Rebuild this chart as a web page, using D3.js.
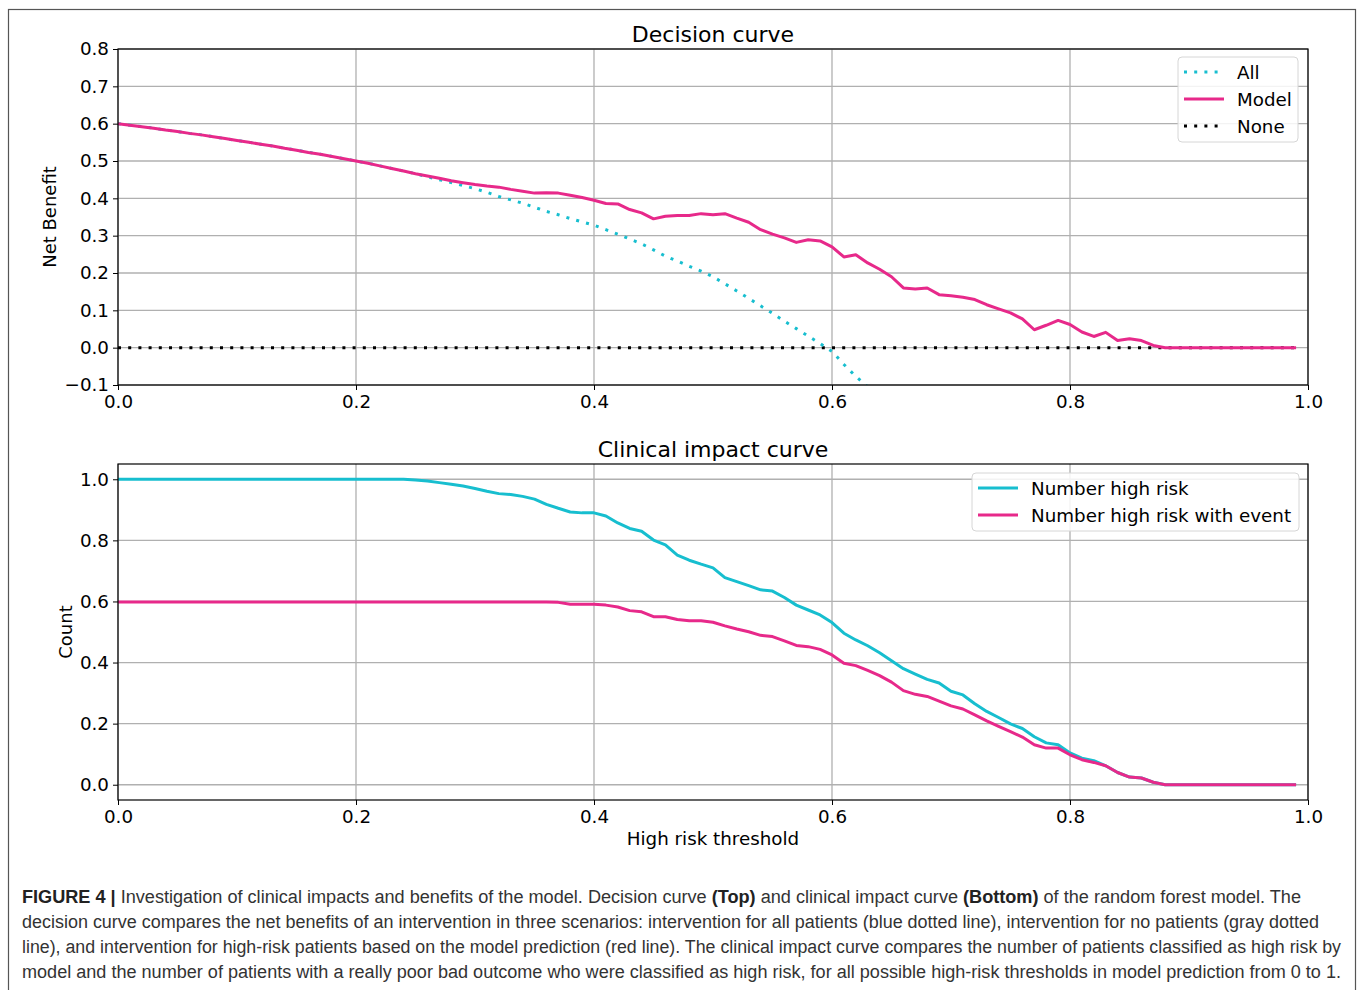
<!DOCTYPE html>
<html>
<head>
<meta charset="utf-8">
<script src="https://cdn.jsdelivr.net/npm/d3@7"></script>
<style>
  body { margin: 0; background: #fff; }
  svg { display: block; }
  .tick text { font-family: "DejaVu Sans", sans-serif; font-size: 18.3px; fill: #000; }
</style>
</head>
<body>
<svg id="lienzo" width="1358" height="990"></svg>
<script>

// umbrales de riesgo (eje x de las dos gráficas)
const thresholds = [
  0.00,0.01,0.02,0.03,0.04,0.05,0.06,0.07,0.08,0.09,
  0.10,0.11,0.12,0.13,0.14,0.15,0.16,0.17,0.18,0.19,
  0.20,0.21,0.22,0.23,0.24,0.25,0.26,0.27,0.28,0.29,
  0.30,0.31,0.32,0.33,0.34,0.35,0.36,0.37,0.38,0.39,
  0.40,0.41,0.42,0.43,0.44,0.45,0.46,0.47,0.48,0.49,
  0.50,0.51,0.52,0.53,0.54,0.55,0.56,0.57,0.58,0.59,
  0.60,0.61,0.62,0.63,0.64,0.65,0.66,0.67,0.68,0.69,
  0.70,0.71,0.72,0.73,0.74,0.75,0.76,0.77,0.78,0.79,
  0.80,0.81,0.82,0.83,0.84,0.85,0.86,0.87,0.88,0.89,
  0.90,0.91,0.92,0.93,0.94,0.95,0.96,0.97,0.98,0.99
];

// Decision curve: "All" (solo hasta 0.63, luego sale del gráfico)
const netBenefitAll = [
  0.600,0.596,0.592,0.588,0.583,0.579,0.574,0.570,0.565,0.560,
  0.555,0.550,0.545,0.540,0.534,0.529,0.523,0.518,0.512,0.506,
  0.500,0.494,0.487,0.480,0.473,0.466,0.458,0.450,0.442,0.434,
  0.426,0.416,0.405,0.396,0.387,0.376,0.365,0.356,0.346,0.337,
  0.328,0.316,0.304,0.291,0.278,0.262,0.245,0.232,0.218,0.205,
  0.190,0.171,0.152,0.132,0.112,0.092,0.071,0.051,0.031,0.011,
  -0.010,-0.045,-0.077,-0.105
];

const netBenefitModel = [
  0.600,0.596,0.592,0.588,0.583,0.579,0.574,0.570,0.565,0.560,
  0.555,0.550,0.545,0.540,0.534,0.529,0.523,0.518,0.512,0.506,
  0.500,0.494,0.487,0.480,0.473,0.466,0.460,0.454,0.447,0.442,
  0.437,0.433,0.430,0.424,0.419,0.414,0.415,0.414,0.408,0.402,
  0.395,0.386,0.385,0.370,0.361,0.345,0.352,0.354,0.354,0.359,
  0.356,0.359,0.347,0.336,0.316,0.304,0.294,0.282,0.289,0.286,
  0.270,0.243,0.249,0.227,0.210,0.190,0.160,0.157,0.160,0.142,
  0.139,0.135,0.129,0.115,0.104,0.093,0.077,0.048,0.060,0.073,
  0.062,0.042,0.030,0.041,0.019,0.024,0.019,0.006,0.000,0.000,
  0.000,0.000,0.000,0.000,0.000,0.000,0.000,0.000,0.000,0.000
];

const noneThresholds = [0.00, 0.99];
const netBenefitNone = [0.000, 0.000];

// Clinical impact curve
const countHighRisk = [
  1.000,1.000,1.000,1.000,1.000,1.000,1.000,1.000,1.000,1.000,
  1.000,1.000,1.000,1.000,1.000,1.000,1.000,1.000,1.000,1.000,
  1.000,1.000,1.000,1.000,1.000,0.998,0.994,0.989,0.984,0.978,
  0.970,0.961,0.953,0.950,0.944,0.935,0.918,0.905,0.893,0.890,
  0.890,0.880,0.857,0.839,0.830,0.801,0.785,0.752,0.735,0.722,
  0.710,0.678,0.665,0.652,0.638,0.634,0.613,0.588,0.572,0.556,
  0.531,0.496,0.474,0.455,0.432,0.406,0.380,0.362,0.345,0.333,
  0.306,0.294,0.265,0.240,0.220,0.199,0.184,0.157,0.137,0.131,
  0.104,0.087,0.079,0.062,0.040,0.025,0.022,0.008,0.000,0.000,
  0.000,0.000,0.000,0.000,0.000,0.000,0.000,0.000,0.000,0.000
];

const countHighRiskEvent = [
  0.598,0.598,0.598,0.598,0.598,0.598,0.598,0.598,0.598,0.598,
  0.598,0.598,0.598,0.598,0.598,0.598,0.598,0.598,0.598,0.598,
  0.598,0.598,0.598,0.598,0.598,0.598,0.598,0.598,0.598,0.598,
  0.598,0.598,0.598,0.598,0.598,0.598,0.598,0.597,0.591,0.591,
  0.591,0.588,0.582,0.570,0.566,0.550,0.550,0.541,0.537,0.537,
  0.532,0.520,0.510,0.501,0.489,0.485,0.471,0.456,0.452,0.443,
  0.425,0.398,0.390,0.374,0.357,0.336,0.308,0.296,0.289,0.274,
  0.258,0.248,0.229,0.209,0.191,0.174,0.156,0.131,0.120,0.120,
  0.098,0.082,0.073,0.062,0.040,0.025,0.022,0.008,0.000,0.000,
  0.000,0.000,0.000,0.000,0.000,0.000,0.000,0.000,0.000,0.000
];

const xTicks = [0.0, 0.2, 0.4, 0.6, 0.8, 1.0];
const netBenefitTicks = [-0.1, 0.0, 0.1, 0.2, 0.3, 0.4, 0.5, 0.6, 0.7, 0.8];
const countTicks = [0.0, 0.2, 0.4, 0.6, 0.8, 1.0];

const captionLines = [
  [["FIGURE 4 |", true], [" Investigation of clinical impacts and benefits of the model. Decision curve ", false], ["(Top)", true], [" and clinical impact curve ", false], ["(Bottom)", true], [" of the random forest model. The", false]],
  [["decision curve compares the net benefits of an intervention in three scenarios: intervention for all patients (blue dotted line), intervention for no patients (gray dotted", false]],
  [["line), and intervention for high-risk patients based on the model prediction (red line). The clinical impact curve compares the number of patients classified as high risk by", false]],
  [["model and the number of patients with a really poor bad outcome who were classified as high risk, for all possible high-risk thresholds in model prediction from 0 to 1.", false]]
];
const captionWidths = [1279, 1297, 1319, 1319];

const CYAN = '#17becf';
const PINK = '#e7298a';
const FONT = '"DejaVu Sans", sans-serif';
const DOTS = '3,7.2';

const svg = d3.select('#lienzo');

// marco exterior de la figura
svg.append('rect')
    .attr('x', 8.5).attr('y', 9.5)
    .attr('width', 1347).attr('height', 1000)
    .attr('fill', 'none')
    .attr('stroke', '#555')
    .attr('stroke-width', 1.2);

const left = 118, right = 1308;

function dibujarPanel(p) {
    const x = d3.scaleLinear().domain([0, 1]).range([left, right]);
    const y = d3.scaleLinear().domain(p.yDomain).range([p.bottom, p.top]);
    const g = svg.append('g');

    g.append('clipPath').attr('id', p.id)
        .append('rect')
        .attr('x', left).attr('y', p.top)
        .attr('width', right - left).attr('height', p.bottom - p.top);

    // rejilla
    g.append('g')
        .selectAll('line.gx')
        .data(xTicks)
        .enter().append('line')
        .attr('x1', d => x(d)).attr('x2', d => x(d))
        .attr('y1', p.top).attr('y2', p.bottom)
        .attr('stroke', '#b0b0b0').attr('stroke-width', 1.3);
    g.append('g')
        .selectAll('line.gy')
        .data(p.yTicks)
        .enter().append('line')
        .attr('x1', left).attr('x2', right)
        .attr('y1', d => y(d)).attr('y2', d => y(d))
        .attr('stroke', '#b0b0b0').attr('stroke-width', 1.3);

    // curvas
    const plot = g.append('g').attr('clip-path', `url(#${p.id})`);
    p.series.forEach(s => {
        const line = d3.line()
            .x((d, i) => x(s.xs[i]))
            .y(d => y(d));
        plot.append('path')
            .datum(s.values)
            .attr('d', line)
            .attr('fill', 'none')
            .attr('stroke', s.color)
            .attr('stroke-width', 3)
            .attr('stroke-dasharray', s.dotted ? DOTS : null)
            .attr('stroke-linejoin', 'round');
    });

    // ejes
    const fmt = d3.format('.1f');
    const ax = g.append('g')
        .attr('transform', `translate(0,${p.bottom})`)
        .call(d3.axisBottom(x).tickValues(xTicks).tickFormat(fmt).tickSize(5).tickPadding(5));
    const ay = g.append('g')
        .attr('transform', `translate(${left},0)`)
        .call(d3.axisLeft(y).tickValues(p.yTicks).tickFormat(fmt).tickSize(5).tickPadding(4));
    ax.select('.domain').remove();
    ay.select('.domain').remove();
    g.selectAll('.tick line').attr('stroke', '#000').attr('stroke-width', 1);

    g.append('rect')
        .attr('x', left).attr('y', p.top)
        .attr('width', right - left).attr('height', p.bottom - p.top)
        .attr('fill', 'none').attr('stroke', '#000').attr('stroke-width', 1.2);

    // título y etiqueta del eje y
    g.append('text')
        .attr('x', (left + right) / 2).attr('y', p.top - 7)
        .attr('text-anchor', 'middle')
        .attr('font-family', FONT).attr('font-size', '22px')
        .text(p.title);
    g.append('text')
        .attr('transform', `translate(${p.yLabelX},${(p.top + p.bottom) / 2}) rotate(-90)`)
        .attr('text-anchor', 'middle')
        .attr('font-family', FONT).attr('font-size', '18px')
        .text(p.yLabel);

    // leyenda
    const lg = g.append('g');
    lg.append('rect')
        .attr('x', p.legend.x).attr('y', p.legend.y)
        .attr('width', p.legend.w).attr('height', p.series.length * 27 + 4)
        .attr('rx', 4)
        .attr('fill', '#fff').attr('fill-opacity', 0.85)
        .attr('stroke', '#d6d6d6');
    p.legendOrder.forEach((k, i) => {
        const s = p.series[k];
        const cy = p.legend.y + 15 + i * 27;
        lg.append('line')
            .attr('x1', p.legend.x + 6).attr('x2', p.legend.x + 46)
            .attr('y1', cy).attr('y2', cy)
            .attr('stroke', s.color)
            .attr('stroke-width', 3)
            .attr('stroke-dasharray', s.dotted ? DOTS : null);
        lg.append('text')
            .attr('x', p.legend.x + 59).attr('y', cy)
            .attr('dominant-baseline', 'central')
            .attr('font-family', FONT).attr('font-size', '18.3px')
            .text(s.name);
    });

    return x;
}

dibujarPanel({
    id: 'clipTop', top: 49, bottom: 385,
    yDomain: [-0.1, 0.8], yTicks: netBenefitTicks,
    title: 'Decision curve', yLabel: 'Net Benefit', yLabelX: 56,
    legend: { x: 1178, y: 57, w: 120 },
    legendOrder: [1, 2, 0],
    series: [
        { name: 'None', xs: noneThresholds, values: netBenefitNone, color: '#000', dotted: true },
        { name: 'All', xs: thresholds, values: netBenefitAll, color: CYAN, dotted: true },
        { name: 'Model', xs: thresholds, values: netBenefitModel, color: PINK, dotted: false }
    ]
});

dibujarPanel({
    id: 'clipBottom', top: 464, bottom: 800,
    yDomain: [-0.05, 1.05], yTicks: countTicks,
    title: 'Clinical impact curve', yLabel: 'Count', yLabelX: 72,
    legend: { x: 972, y: 473, w: 327 },
    legendOrder: [0, 1],
    series: [
        { name: 'Number high risk', xs: thresholds, values: countHighRisk, color: CYAN, dotted: false },
        { name: 'Number high risk with event', xs: thresholds, values: countHighRiskEvent, color: PINK, dotted: false }
    ]
});

svg.append('text')
    .attr('x', (left + right) / 2).attr('y', 845)
    .attr('text-anchor', 'middle')
    .attr('font-family', FONT).attr('font-size', '18.3px')
    .text('High risk threshold');

// pie de figura
captionLines.forEach((partes, i) => {
    const t = svg.append('text')
        .attr('x', 22).attr('y', 903 + i * 25)
        .attr('font-family', '"Liberation Sans", Arial, sans-serif')
        .attr('font-size', '18px')
        .attr('fill', '#333')
        .attr('textLength', captionWidths[i])
        .attr('lengthAdjust', 'spacingAndGlyphs');
    partes.forEach(([txt, bold]) => {
        t.append('tspan')
            .attr('font-weight', bold ? 'bold' : 'normal')
            .attr('fill', bold ? '#222' : '#333')
            .text(txt);
    });
});

</script>
</body>
</html>
